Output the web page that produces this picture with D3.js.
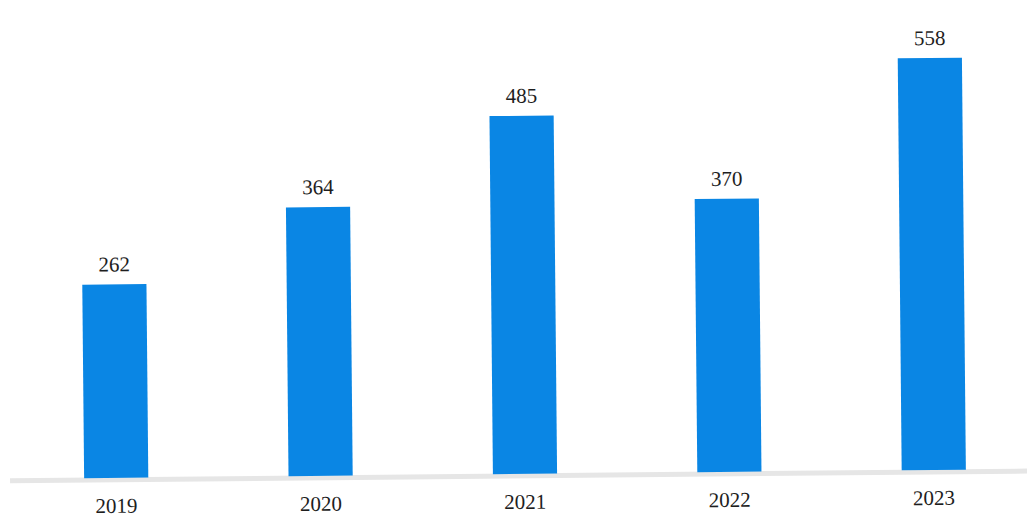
<!DOCTYPE html>
<html><head><meta charset="utf-8">
<script src="https://cdn.jsdelivr.net/npm/d3@7"></script>
<style>html,body{margin:0;padding:0;background:#fff;}</style>
</head><body>
<script>
const years = ["2019","2020","2021","2022","2023"];
const values = [262, 364, 485, 370, 558];

const W = 1027, H = 519;
const svg = d3.select("body").append("svg").attr("width", W).attr("height", H);
const g = svg.append("g").attr("transform", "rotate(-0.55 514 474)");

const x = d3.scaleBand().domain(years).range([14, 1036]).paddingInner(0.686).paddingOuter(0.343);
const y = d3.scaleLinear().domain([0, 558]).range([474, 62]);

g.append("line").attr("x1", 10).attr("x2", 1040).attr("y1", y(0) + 2).attr("y2", y(0) + 2)
  .attr("stroke", "#e6e6e6").attr("stroke-width", 5);

g.selectAll("rect.bar").data(values).enter().append("rect")
  .attr("x", (d, i) => x(years[i]))
  .attr("width", x.bandwidth())
  .attr("y", d => y(d))
  .attr("height", d => y(0) - y(d))
  .attr("fill", "#0a86e4");

g.selectAll("text.val").data(values).enter().append("text")
  .attr("x", (d, i) => x(years[i]) + x.bandwidth() / 2)
  .attr("y", d => y(d) - 13)
  .attr("text-anchor", "middle")
  .attr("font-family", "Liberation Serif, serif")
  .attr("font-size", 21)
  .attr("fill", "#1e1e1e")
  .text(d => d);

g.selectAll("text.yr").data(years).enter().append("text")
  .attr("x", d => x(d) + x.bandwidth() / 2)
  .attr("y", y(0) + 35)
  .attr("text-anchor", "middle")
  .attr("font-family", "Liberation Serif, serif")
  .attr("font-size", 21)
  .attr("fill", "#1e1e1e")
  .text(d => d);
</script>
</body></html>
